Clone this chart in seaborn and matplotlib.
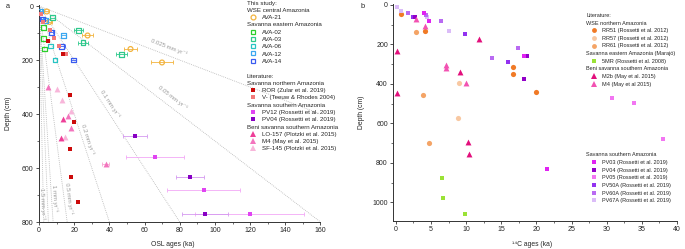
import numpy as np
import matplotlib
matplotlib.use("Agg")
import matplotlib.pyplot as plt
from matplotlib.lines import Line2D
from matplotlib.ticker import MultipleLocator
import seaborn as sns

sns.set_style("ticks")
plt.rcParams["font.family"] = ["Liberation Sans", "DejaVu Sans"]

# ---------------- Panel a data (OSL ages, ka ; depth, cm) ----------------
ava21_age = [4.4, 5.9, 27.6, 52.0, 69.9]
ava21_dep = [20, 59, 109, 159, 209]
ava21_err = [1.5, 1.5, 3.0, 3.8, 6.0]
ava02_age = [2.5, 2.5, 2.9]
ava02_dep = [79, 120, 159]
ava03_age = [7.6, 22.3, 25.0, 46.9]
ava03_dep = [43, 89, 135, 178]
ava03_err = [1.5, 2.5, 3.0, 3.0]
ava06_age = [6.7, 9.1]
ava06_dep = [148, 200]
ava12_age = [1.0, 3.5, 13.9]
ava12_dep = [18, 52, 109]
ava12_err = [0.5, 0.8, 1.5]
ava14_age = [2.1, 6.9, 13.0, 19.6]
ava14_dep = [48, 97, 149, 200]
ava14_err = [0.8, 1.0, 1.5, 1.5]
ror_age = [5.3, 13.9, 17.7, 20.0, 17.7, 18.3, 22.1]
ror_dep = [130, 178, 330, 430, 531, 632, 725]
v_age = [1.0, 2.0, 6.3, 8.6, 11.6, 15.3]
v_dep = [30, 60, 89, 120, 148, 179]
pv12_age = [65.9, 93.5, 119.8]
pv12_dep = [560, 681, 771]
pv12_err = [16.7, 20.5, 31.0]
pv04a_age = [54.5, 85.7, 94.3]
pv04a_dep = [480, 632, 771]
pv04a_err = [7.0, 8.0, 13.0]
lo157_age = [13.9, 12.6]
lo157_dep = [417, 488]
m4a_age = [5.3, 16.2, 18.1, 37.9]
m4a_dep = [299, 407, 451, 586]
m4a_err = [0.0, 0.0, 0.0, 2.0]
sf145_age = [10.1, 13.3, 18.1, 15.0]
sf145_dep = [309, 348, 388, 484]

rates = [0.025, 0.05, 0.1, 0.2, 0.5, 1.0, 1.5, 3.0]
rate_labels = ["0.025 mm yr⁻¹", "0.05 mm yr⁻¹", "0.1 mm yr⁻¹", "0.2 mm yr⁻¹",
               "0.5 mm yr⁻¹", "1 mm yr⁻¹", "1.5 mm yr⁻¹", ""]
rate_label_age = [74.0, 75.8, 40.6, 27.4, 17.1, 9.1, 1.7, None]
rate_label_dep = [154, 339, 363, 493, 711, 711, 733, None]

# ---------------- Panel b data (14C ages, ka ; depth, cm) ----------------
rr51_age = [0.75, 4.1, 16.7, 16.7, 20.0]
rr51_dep = [46, 134, 313, 352, 443]
rr57_age = [9.0, 8.8]
rr57_dep = [397, 572]
rr61_age = [2.84, 3.9, 4.7]
rr61_dep = [139, 457, 699]
mr5_age = [6.6, 6.7, 9.8]
mr5_dep = [877, 978, 1058]
m2b_age = [11.9, 0.2, 9.2, 0.2, 10.2, 10.4]
m2b_dep = [174, 232, 338, 445, 694, 753]
m4b_age = [2.9, 4.1, 7.2, 7.2, 10.0]
m4b_dep = [71, 107, 305, 318, 394]
pv03_age = [4.0, 4.7, 18.2, 21.5]
pv03_dep = [39, 80, 259, 829]
pv04b_age = [2.8, 18.6, 18.3]
pv04b_dep = [59, 259, 377]
pv05_age = [30.7, 33.9, 38.0]
pv05_dep = [469, 499, 680]
pv50a_age = [2.46, 9.85, 15.9]
pv50a_dep = [59, 149, 288]
pv60a_age = [1.75, 4.3, 6.4, 13.7, 17.4]
pv60a_dep = [39, 51, 80, 267, 220]
pv67a_age = [0.2, 0.8, 4.45, 7.6]
pv67a_dep = [8.5, 29, 59, 130]

W, H = 685, 249
fig = plt.figure(figsize=(W / 100, H / 100), dpi=100)

def px_axes(l, t, r, b):
    return fig.add_axes([l / W, 1 - b / H, (r - l) / W, (b - t) / H])

axa = px_axes(38.5, 5, 320.5, 222)
axb = px_axes(393, 4, 677, 221)

axa.set_xlim(-0.3, 160)
axa.set_ylim(800, -4)
axb.set_xlim(-0.4, 40)
axb.set_ylim(1095, -5)

FS = 5.0
for ax in (axa, axb):
    sns.despine(ax=ax)
    for s in ("left", "bottom"):
        ax.spines[s].set_linewidth(0.7)
        ax.spines[s].set_color("#333333")
    ax.tick_params(which="major", direction="out", length=2.2, width=0.6,
                   labelsize=FS, pad=1.5, color="#333333")
    ax.tick_params(which="minor", direction="out", length=1.3, width=0.5, color="#333333")

axa.xaxis.set_major_locator(MultipleLocator(20))
axa.xaxis.set_minor_locator(MultipleLocator(10))
axa.yaxis.set_major_locator(MultipleLocator(200))
axa.yaxis.set_minor_locator(MultipleLocator(100))
axb.xaxis.set_major_locator(MultipleLocator(5))
axb.xaxis.set_minor_locator(MultipleLocator(2.5))
axb.yaxis.set_major_locator(MultipleLocator(200))
axb.yaxis.set_minor_locator(MultipleLocator(100))

# ---------------- rate lines ----------------
xs = np.array([0.0, 160.0])
for r, lab, la, ld in zip(rates, rate_labels, rate_label_age, rate_label_dep):
    sns.lineplot(x=xs, y=xs * r * 100, ax=axa, color="#b5b5b5", lw=0.6,
                 linestyle=(0, (1, 1.3)), zorder=1)
    if lab:
        p0 = axa.transData.transform((0, 0))
        p1 = axa.transData.transform((1, r * 100))
        ang = np.degrees(np.arctan2(p1[1] - p0[1], p1[0] - p0[0]))
        axa.text(la, ld, lab, rotation=ang, ha="center", va="center",
                 fontsize=4.3, color="#9a9a9a", zorder=1)

def series(ax, x, y, color, marker, s, open_=False, err=None, ecolor=None, lw=0.9):
    if err is not None:
        ax.errorbar(x, y, xerr=err, fmt="none", ecolor=ecolor or color,
                    elinewidth=0.6, capsize=1.5, capthick=0.6, zorder=2)
    sns.scatterplot(x=x, y=y, ax=ax, marker=marker, s=s, color=color,
                    edgecolor=color, linewidth=lw if open_ else 0, legend=False, zorder=3)
    if open_:
        ax.collections[-1].set_facecolor("none")

C = dict(
    ava21="#f2b33d", ava02="#2bcf2b", ava03="#2ec98c", ava06="#27c4c4",
    ava12="#3aa7f0", ava14="#3a5cf0", ror="#cc0a0a", v="#f27a7a",
    pv12="#e044f2", pv04="#8800c4", lo157="#ee3f98", m4="#f374bd", sf145="#f8b6da",
    rr51="#f07a26", rr57="#f8c8a2", rr61="#f4a466", mr5="#9ae236",
    m2b="#e20f7c", m4b="#f252b2", pv03="#e022f2", pv04b="#9200c8",
    pv05="#f276f2", pv50a="#9232f0", pv60a="#b96af2", pv67a="#dbbcf8",
)

SO, SF, ST, SC = 12, 12, 18, 14
# panel a
series(axa, ava21_age, ava21_dep, C["ava21"], "o", SO, True, ava21_err)
series(axa, ava02_age, ava02_dep, C["ava02"], "s", SO, True)
series(axa, ava03_age, ava03_dep, C["ava03"], "s", SO, True, ava03_err)
series(axa, ava06_age, ava06_dep, C["ava06"], "s", SO, True)
series(axa, ava12_age, ava12_dep, C["ava12"], "s", SO, True, ava12_err)
series(axa, ava14_age, ava14_dep, C["ava14"], "s", SO, True, ava14_err)
series(axa, v_age, v_dep, C["v"], "s", SF)
series(axa, ror_age, ror_dep, C["ror"], "s", SF)
series(axa, pv12_age, pv12_dep, C["pv12"], "s", SF, err=pv12_err, ecolor="#f2a8f6")
series(axa, pv04a_age, pv04a_dep, C["pv04"], "s", SF, err=pv04a_err, ecolor="#d59af0")
series(axa, sf145_age, sf145_dep, C["sf145"], "^", ST)
series(axa, m4a_age, m4a_dep, C["m4"], "^", ST, err=m4a_err, ecolor="#f8a8d4")
series(axa, lo157_age, lo157_dep, C["lo157"], "^", ST)

# panel b
series(axb, rr57_age, rr57_dep, C["rr57"], "o", SC)
series(axb, rr61_age, rr61_dep, C["rr61"], "o", SC)
series(axb, rr51_age, rr51_dep, C["rr51"], "o", SC)
series(axb, mr5_age, mr5_dep, C["mr5"], "s", SF)
series(axb, pv67a_age, pv67a_dep, C["pv67a"], "s", SF)
series(axb, pv60a_age, pv60a_dep, C["pv60a"], "s", SF)
series(axb, pv50a_age, pv50a_dep, C["pv50a"], "s", SF)
series(axb, pv05_age, pv05_dep, C["pv05"], "s", SF)
series(axb, pv04b_age, pv04b_dep, C["pv04b"], "s", SF)
series(axb, pv03_age, pv03_dep, C["pv03"], "s", SF)
series(axb, m4b_age, m4b_dep, C["m4b"], "^", ST)
series(axb, m2b_age, m2b_dep, C["m2b"], "^", ST)

# ---------------- labels ----------------
LAB = 4.9
axa.set_xlabel("OSL ages (ka)", fontsize=LAB)
axa.set_ylabel("Depth (cm)", fontsize=LAB)
axa.xaxis.set_label_coords(0.475, -0.088)
axa.yaxis.set_label_coords(-0.095, 0.5)
axb.set_xlabel("¹⁴C ages (ka)", fontsize=LAB)
axb.set_ylabel("Depth (cm)", fontsize=LAB)
axb.xaxis.set_label_coords(0.488, -0.092)
axb.yaxis.set_label_coords(-0.097, 0.5)
fig.text(6 / W, 1 - 6 / H, "a", fontsize=5.3, va="center", ha="left")
fig.text(361 / W, 1 - 6 / H, "b", fontsize=5.3, va="center", ha="left")

# ---------------- legends ----------------
def handle(color, marker, open_=False):
    if marker is None:
        return Line2D([], [], linestyle="none")
    ms = 3.5 if marker != "^" else 4.1
    return Line2D([], [], linestyle="none", marker=marker, markersize=ms,
                  markeredgecolor=color, markeredgewidth=0.9 if open_ else 0,
                  markerfacecolor="none" if open_ else color)

def make_legend(entries, x_px, y_px, fs, hl, pad, spacing):
    hs, ls, hdr = [], [], []
    for lab, col, mk, op in entries:
        hs.append(handle(col, mk, op))
        ls.append(lab)
        hdr.append(mk is None)
    leg = fig.legend(hs, ls, loc="upper left", bbox_to_anchor=(x_px / W, 1 - y_px / H),
                     frameon=False, fontsize=fs, handlelength=hl, handletextpad=pad,
                     labelspacing=spacing, borderpad=0, borderaxespad=0, numpoints=1)
    shift = (hl + pad) * fs * 100 / 72
    for t, h in zip(leg.get_texts(), hdr):
        if h:
            t.set_x(-shift)
    return leg

entries_a = [
    ("This study:", None, None, False),
    ("WSE central Amazonia", None, None, False),
    ("AVA-21", C["ava21"], "o", True),
    ("Savanna eastern Amazonia", None, None, False),
    ("AVA-02", C["ava02"], "s", True),
    ("AVA-03", C["ava03"], "s", True),
    ("AVA-06", C["ava06"], "s", True),
    ("AVA-12", C["ava12"], "s", True),
    ("AVA-14", C["ava14"], "s", True),
    (" ", None, None, False),
    ("Literature:", None, None, False),
    ("Savanna northern Amazonia", None, None, False),
    ("ROR (Zular et al. 2019)", C["ror"], "s", False),
    ("V- (Teeuw & Rhodes 2004)", C["v"], "s", False),
    ("Savanna southern Amazonia", None, None, False),
    ("PV12 (Rossetti et al. 2019)", C["pv12"], "s", False),
    ("PV04 (Rossetti et al. 2019)", C["pv04"], "s", False),
    ("Beni savanna southern Amazonia", None, None, False),
    ("LO-157 (Plotzki et al. 2015)", C["lo157"], "^", False),
    ("M4 (May et al. 2015)", C["m4"], "^", False),
    ("SF-145 (Plotzki et al. 2015)", C["sf145"], "^", False),
]
make_legend(entries_a, 247, 0.3, 4.4, 1.96, 0.45, 0.33)

entries_b1 = [
    ("Literature:", None, None, False),
    ("WSE northern Amazonia", None, None, False),
    ("RR51 (Rossetti et al. 2012)", C["rr51"], "o", False),
    ("RR57 (Rossetti et al. 2012)", C["rr57"], "o", False),
    ("RR61 (Rossetti et al. 2012)", C["rr61"], "o", False),
    ("Savanna eastern Amazonia (Marajó)", None, None, False),
    ("5MR (Rossetti et al. 2008)", C["mr5"], "s", False),
    ("Beni savanna southern Amazonia", None, None, False),
    ("M2b (May et al. 2015)", C["m2b"], "^", False),
    ("M4 (May et al 2015)", C["m4b"], "^", False),
]
make_legend(entries_b1, 586.5, 13.0, 4.0, 2.6, 0.28, 0.47)

entries_b2 = [
    ("Savanna southern Amazonia", None, None, False),
    ("PV03 (Rossetti et al. 2019)", C["pv03"], "s", False),
    ("PV04 (Rossetti et al. 2019)", C["pv04b"], "s", False),
    ("PV05 (Rossetti et al. 2019)", C["pv05"], "s", False),
    ("PV50A (Rossetti et al. 2019)", C["pv50a"], "s", False),
    ("PV60A (Rossetti et al. 2019)", C["pv60a"], "s", False),
    ("PV67A (Rossetti et al. 2019)", C["pv67a"], "s", False),
]
make_legend(entries_b2, 586.5, 152.5, 4.0, 2.6, 0.28, 0.47)

fig.savefig("out.png", dpi=100)
